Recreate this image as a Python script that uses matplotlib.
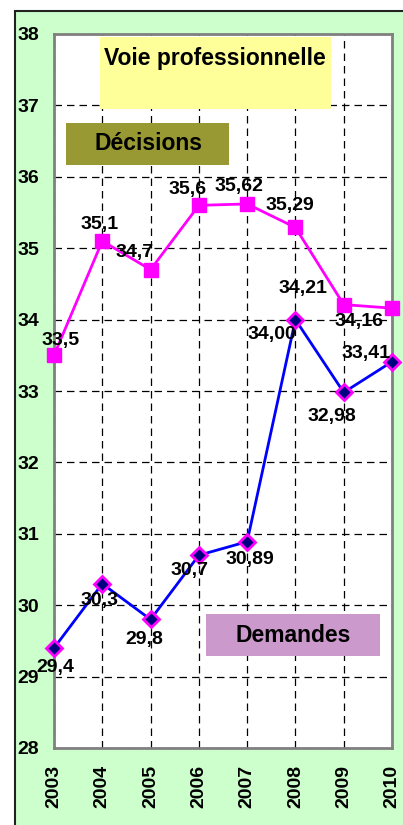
import matplotlib.pyplot as plt
from matplotlib.patches import Rectangle

annees = [2003, 2004, 2005, 2006, 2007, 2008, 2009, 2010]
decisions = [33.5, 35.1, 34.7, 35.6, 35.62, 35.29, 34.21, 34.16]
demandes = [29.4, 30.3, 29.8, 30.7, 30.89, 34.00, 32.98, 33.41]
labels_decisions = ['33,5', '35,1', '34,7', '35,6', '35,62', '35,29', '34,21', '34,16']
labels_demandes = ['29,4', '30,3', '29,8', '30,7', '30,89', '34,00', '32,98', '33,41']

# decalage des etiquettes (pixels, x vers la droite, y vers le bas)
dec_decisions = [(7, -15), (-3, -17), (-16, -17), (-11, -16), (-8, -17), (-6, -22), (-41, -16), (-33, 13)]
dec_demandes = [(1, 19), (-3, 17), (-6, 20), (-9, 15), (3, 18), (-24, 15), (-12, 24), (-26, -8)]

W, H = 403, 825
plt.rcParams['font.family'] = ['Liberation Sans', 'DejaVu Sans']
plt.rcParams['font.weight'] = 'bold'

fig = plt.figure(figsize=(W / 100, H / 100), dpi=100)
fig.patch.set_facecolor('white')

# fond vert avec bord noir en haut et a gauche
fond = Rectangle((15 / W, -0.1), 2, (H - 11) / H + 0.1, transform=fig.transFigure,
                 facecolor='#CCFFCC', edgecolor='#222222', lw=1.5, zorder=-10)
fig.patches.append(fond)

x0, x1, y0, y1 = 54, 392, 34, 748
ax = fig.add_axes([x0 / W, 1 - y1 / H, (x1 - x0) / W, (y1 - y0) / H])
ax.set_facecolor('white')


def px(x, y):
    return (x - x0) / (x1 - x0), 1 - (y - y0) / (y1 - y0)


ax.plot(annees, decisions, color='#FF00FF', lw=2, marker='s', ms=10,
        mfc='#FF00FF', mec='#FF00FF', zorder=3, clip_on=False)
ax.plot(annees, demandes, color='#0000FF', lw=2, marker='D', ms=8,
        mfc='#000080', mec='#FF00FF', mew=2, zorder=3, clip_on=False)

for x, v, t, d in zip(annees, decisions, labels_decisions, dec_decisions):
    ax.annotate(t, (x, v), xytext=(d[0] * 0.72, -d[1] * 0.72), textcoords='offset points',
                ha='center', va='center', fontsize=14, fontweight='bold', zorder=4,
                annotation_clip=False)
for x, v, t, d in zip(annees, demandes, labels_demandes, dec_demandes):
    ax.annotate(t, (x, v), xytext=(d[0] * 0.72, -d[1] * 0.72), textcoords='offset points',
                ha='center', va='center', fontsize=14, fontweight='bold', zorder=4,
                annotation_clip=False)

ax.set_xlim(2003, 2010)
ax.set_ylim(28, 38)
ax.set_xticks(annees)
ax.set_yticks(range(28, 39))
ax.set_axisbelow(True)
ax.grid(True, color='black', lw=0.9, linestyle=(0, (6, 4)))
ax.tick_params(length=0)
ax.tick_params(axis='y', pad=26.5)
ax.tick_params(axis='x', pad=12)
for lab in ax.get_yticklabels():
    lab.set_horizontalalignment('left')
    lab.set_fontsize(14)
    lab.set_fontweight('bold')
for lab in ax.get_xticklabels():
    lab.set_rotation(90)
    lab.set_fontsize(14)
    lab.set_fontweight('bold')
    lab.set_verticalalignment('top')

for s in ax.spines.values():
    s.set_color('#808080')
    s.set_linewidth(2)

# encadres de texte
boites = [
    ((100, 37, 331, 109), '#FFFF99', 'Voie professionnelle', (215, 58)),
    ((66, 123, 229, 165), '#999933', 'Décisions', (148, 144)),
    ((206, 614, 380, 656), '#CC99CC', 'Demandes', (293, 635)),
]
for (bx0, by0, bx1, by1), couleur, texte, (tx, ty) in boites:
    ax0, ay1 = px(bx0, by0)
    ax1, ay0 = px(bx1, by1)
    ax.add_patch(Rectangle((ax0, ay0), ax1 - ax0, ay1 - ay0, transform=ax.transAxes,
                           facecolor=couleur, edgecolor='none', zorder=1.5))
    ax.text(*px(tx, ty), texte, transform=ax.transAxes, ha='center', va='center',
            fontsize=16.5, fontweight='bold', zorder=1.6)

fig.savefig('out.png', dpi=100)
